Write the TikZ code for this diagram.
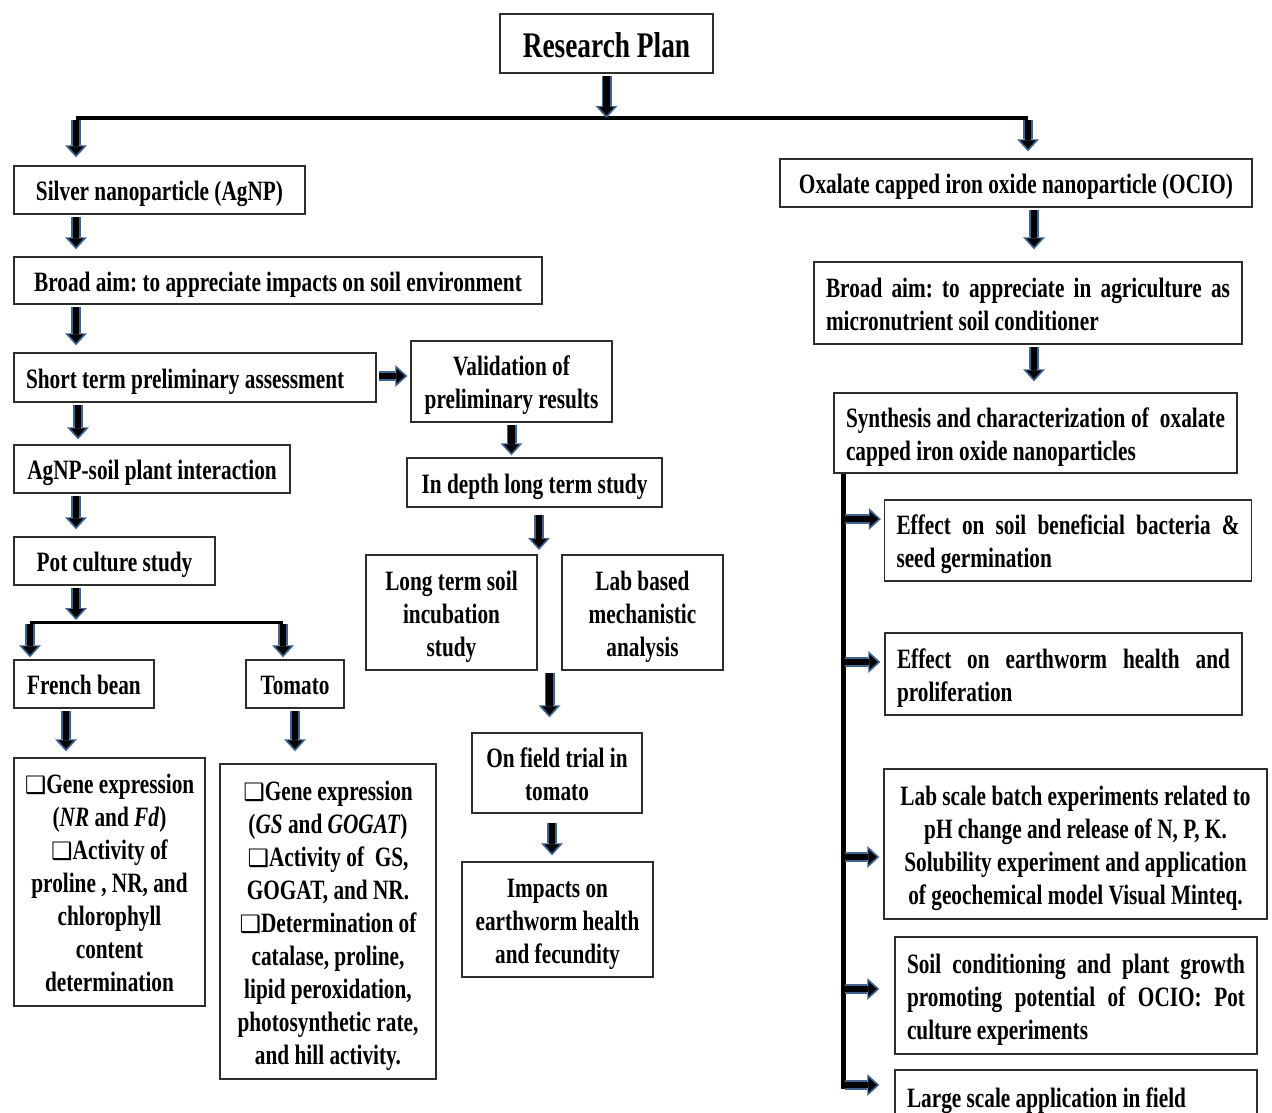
\documentclass[tikz,border=0pt]{standalone}
\usepackage{fontspec}
\setmainfont{Liberation Serif}[FakeStretch=0.76]
\newfontfamily\symfont{DejaVu Sans}
\usetikzlibrary{arrows.meta}
\usetikzlibrary{calc}
\usetikzlibrary{positioning}

\definecolor{arrowblue}{RGB}{62,100,145}
\definecolor{boxline}{RGB}{45,45,45}

\frenchspacing
\newcommand{\chk}{{\symfont\fontsize{24}{24}\selectfont ❑}}
% line struts: top line (ascent and descent), last line (descent only)
\newcommand{\ws}{\rule[-0.216em]{0pt}{1.2em}}
\newcommand{\wsd}{\rule[-0.216em]{0pt}{0.216em}}

\tikzset{
  box/.style={draw=boxline, line width=1.4pt, fill=white, inner sep=0pt,
    font=\bfseries\fontsize{28}{33}\selectfont},
  jbox/.style={box, align=justify, inner xsep=12pt},
  blockarr/.style={draw=arrowblue, line width=10pt, shorten <=2pt, shorten >=#1,
    -{Triangle[length=12pt,width=22pt,line width=0pt]},
    postaction={draw=black, line width=6.5pt, shorten >=#1+2.5pt,
      -{Triangle[length=8.5pt,width=15pt,line width=0pt]}}},
  blockarr/.default=0pt,
  linkline/.style={draw=black, line width=3.5pt}
}

\begin{document}
\begin{tikzpicture}[x=1pt, y=-1pt]
    \useasboundingbox (0,0) rectangle (1272,1112);

    % Title
    \node[box, minimum width=213pt, minimum height=59pt, font=\bfseries\fontsize{36}{40}\selectfont] (plan) at (606.5,43.5) {\ws Research Plan};
    \coordinate (tl) at (76,118);
    \coordinate (tr) at (1028,118);
    \draw[linkline] (tl) -- (tr);
    \draw[blockarr] (plan.south) -- (plan.south |- tl);

    % AgNP branch
    \node[box, minimum width=291pt, minimum height=48pt] (agnp) at (159.5,190) {\ws Silver nanoparticle (AgNP)};
    \node[box, minimum width=528pt, minimum height=47pt] (broadl) at (278,280.5) {\ws Broad aim: to appreciate impacts on soil environment};
    \node[box, align=flush left, text width=338pt, inner xsep=12pt, minimum height=49pt] (shortt) at (195,377.5) {\ws Short term preliminary assessment};
    \node[box, minimum width=276pt, minimum height=48pt] (interact) at (152,469) {\ws AgNP-soil plant interaction};
    \node[box, minimum width=201pt, minimum height=48pt] (pot) at (114.5,561) {\ws Pot culture study};
    \node[box, minimum width=140pt, minimum height=48pt] (bean) at (84,684) {\ws French bean};
    \node[box, minimum width=98pt, minimum height=48pt] (tomato) at (295,684) {\ws Tomato};
    \node[box, align=center, minimum width=191pt, minimum height=248pt] (genel) at (109.5,882)
      {\ws\chk Gene expression\\(\textit{NR} and \textit{Fd})\\\chk Activity of\\proline , NR, and\\chlorophyll\\content\\determination\wsd};
    \node[box, align=center, minimum width=216pt, minimum height=315pt] (gener) at (328,921.5)
      {\ws\chk Gene expression\\(\textit{GS} and \textit{GOGAT})\\\chk Activity of~ GS,\\GOGAT, and NR.\\\chk Determination of\\catalase, proline,\\lipid peroxidation,\\photosynthetic rate,\\and hill activity.\wsd};

    \coordinate (lx) at (76,0);
    \coordinate (bx) at (66,0);
    \coordinate (px) at (78,0);
    \coordinate (pl) at (30,622);
    \coordinate (pr) at (283,622);
    \draw[blockarr=8pt] (tl) -- (agnp.north -| tl);
    \draw[blockarr=7pt] (agnp.south -| lx) -- (broadl.north -| lx);
    \draw[blockarr=7pt] (broadl.south -| lx) -- (shortt.north -| lx);
    \draw[blockarr=5pt] (shortt.south -| px) -- (interact.north -| px);
    \draw[blockarr=7pt] (interact.south -| lx) -- (pot.north -| lx);
    \draw[linkline, line width=3pt] (pl) -- (pr);
    \draw[blockarr=2pt] (pot.south -| lx) -- (pl -| lx);
    \draw[blockarr=2pt] (pl) -- (bean.north -| pl);
    \draw[blockarr=2pt] (pr) -- (tomato.north -| pr);
    \draw[blockarr=6pt] (bean.south -| bx) -- (genel.north -| bx);
    \draw[blockarr=12pt] (tomato.south) -- (gener.north -| tomato.south);

    % long term study
    \node[box, align=center, minimum width=201pt, minimum height=81pt] (valid) at (511.5,381.5) {\ws Validation of\\preliminary results\wsd};
    \node[box, minimum width=255pt, minimum height=49pt] (indepth) at (534.5,482.5) {\ws In depth long term study};
    \node[box, align=center, minimum width=171pt, minimum height=115pt] (incub) at (451.5,612.5) {\ws Long term soil\\incubation\\study\wsd};
    \node[box, align=center, minimum width=161pt, minimum height=115pt] (mech) at (642.5,612.5) {\ws Lab based\\mechanistic\\analysis\wsd};
    \node[box, align=center, minimum width=170pt, minimum height=80pt] (field) at (557,773) {\ws On field trial in\\tomato\wsd};
    \node[box, align=center, minimum width=191pt, minimum height=115pt] (impact) at (557.5,919.5) {\ws Impacts on\\earthworm health\\and fecundity\wsd};

    \coordinate (gapt) at (539,555);
    \coordinate (gapb) at ($(incub.south east)!0.5!(mech.south west)$);
    \coordinate (fx) at (552,0);
    \draw[blockarr=3pt] ([yshift=1.5pt]shortt.east) -- ([yshift=1.5pt]shortt.east -| valid.west);
    \draw[blockarr=2pt] (valid.south) -- (indepth.north -| valid.south);
    \draw[blockarr=5pt, shorten <=7pt] (indepth.south -| gapt) -- (gapt);
    \draw[blockarr=15pt] (gapb) -- (field.north -| gapb);
    \draw[blockarr=6pt, shorten <=9pt] (field.south -| fx) -- (impact.north -| fx);

    % OCIO branch
    \node[box, minimum width=472pt, minimum height=48pt] (ocio) at (1016,183) {\ws Oxalate capped iron oxide nanoparticle (OCIO)};
    \node[jbox, text width=404pt, minimum height=82pt] (broadr) at (1028,303) {\ws Broad aim: to appreciate in agriculture as\linebreak micronutrient soil conditioner\wsd};
    \node[jbox, text width=379pt, minimum height=80pt] (synth) at (1035.5,433) {\ws Synthesis and characterization of~ oxalate\linebreak capped iron oxide nanoparticles\wsd};
    \node[jbox, text width=343pt, minimum height=81pt] (bact) at (1068,540.5) {\ws Effect on soil beneficial bacteria \&\linebreak seed germination\wsd};
    \node[jbox, text width=333pt, minimum height=82pt] (worm) at (1063.5,674) {\ws Effect on earthworm health and\linebreak proliferation\wsd};
    \node[box, align=center, minimum width=383pt, minimum height=150pt] (batch) at (1075.5,844)
      {\ws Lab scale batch experiments related to\\pH change and release of N, P, K.\\Solubility experiment and application\\of geochemical model Visual Minteq.\wsd};
    \node[jbox, text width=338pt, minimum height=117pt] (cond) at (1076,995.5) {\ws Soil conditioning and plant growth\linebreak promoting potential of OCIO: Pot\linebreak culture experiments\wsd};
    \node[box, align=flush left, text width=338pt, inner xsep=12pt, minimum height=54pt] (large) at (1076,1097) {\ws Large scale application in field};

    \coordinate (rx) at (1034,0);
    \coordinate (rs) at (843,1089);
    \draw[blockarr=7pt] (tr) -- (ocio.north -| tr);
    \draw[blockarr=12pt] (ocio.south -| rx) -- (broadr.north -| rx);
    \draw[blockarr=11pt] (broadr.south -| rx) -- (synth.north -| rx);
    \draw[line width=5pt] (synth.south -| rs) -- (rs);
    \foreach \y/\n/\g in {519/bact/3pt, 662/worm/4pt, 857/batch/4pt, 989/cond/15pt, 1085/large/15pt}{
        \coordinate (s\n) at (843,\y);
        \draw[blockarr=\g] (s\n) -- (s\n -| \n.west);
    }
\end{tikzpicture}
\end{document}
